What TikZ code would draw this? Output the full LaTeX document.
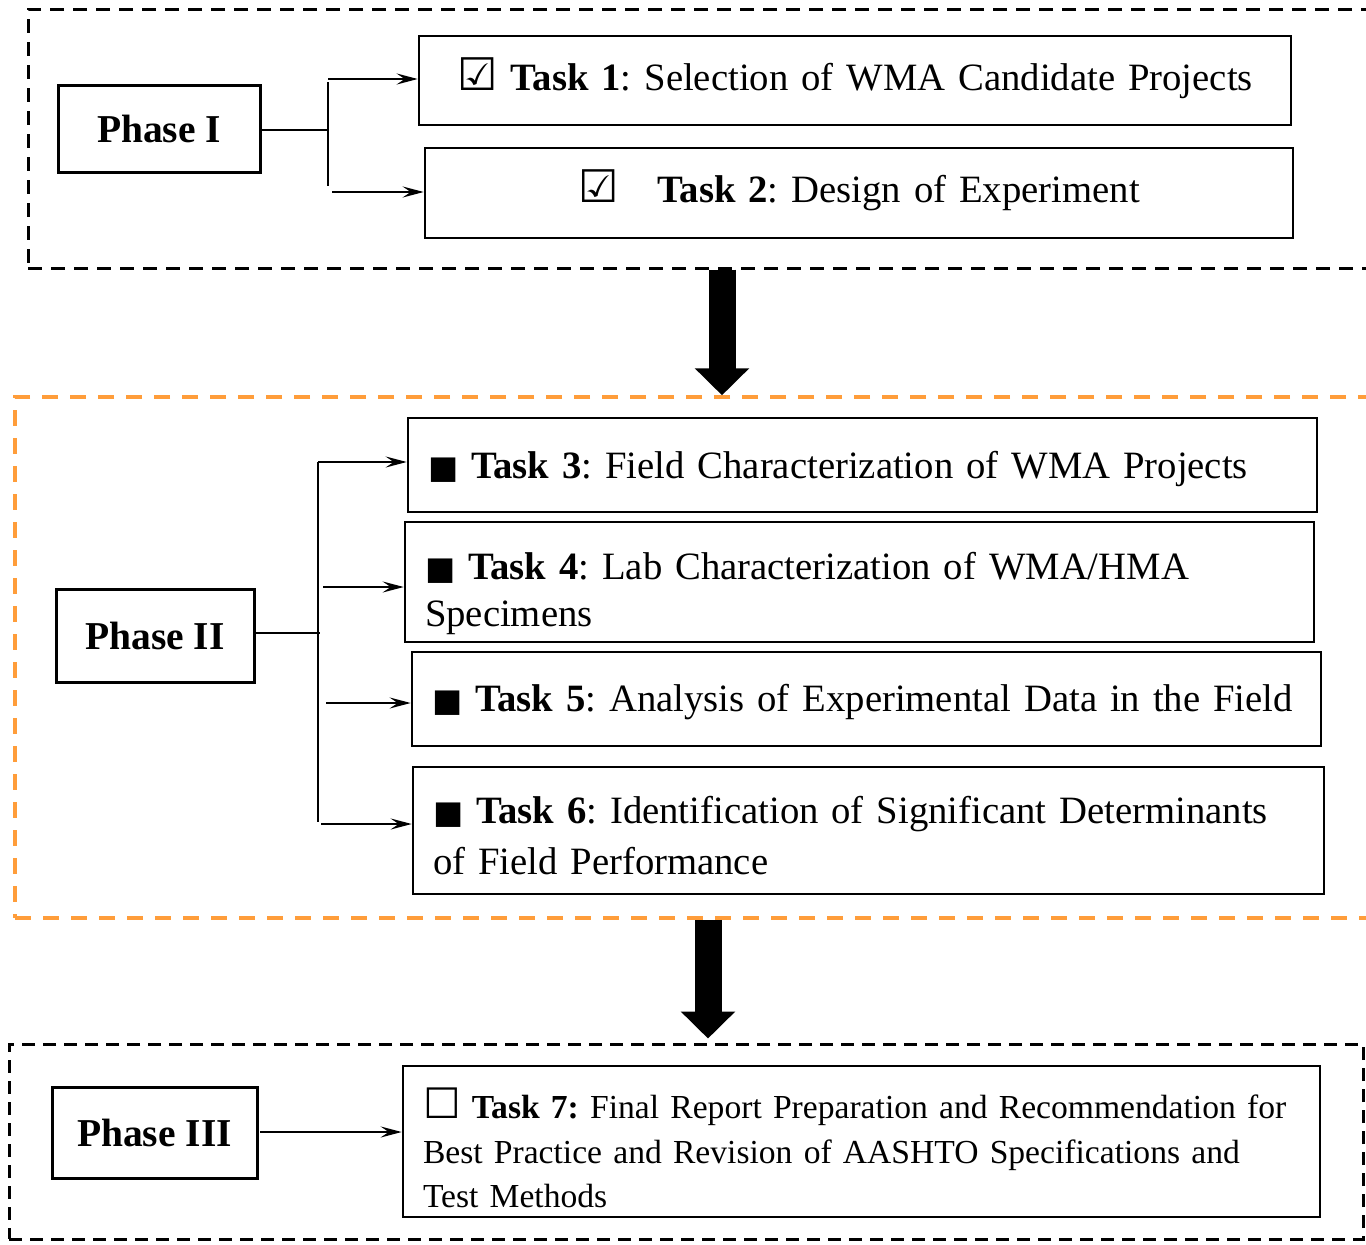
\documentclass[tikz,border=0pt]{standalone}
\usepackage{fontspec}
\setmainfont{Liberation Serif}
\newfontfamily\symfont{DejaVu Sans}
\usetikzlibrary{arrows.meta,calc}
\definecolor{phaseorange}{RGB}{255,157,58}
\newcommand{\chk}{\smash{\symfont\fontsize{45}{45}\selectfont ☑}}
\newcommand{\sqb}{\smash{\symfont\fontsize{32}{32}\selectfont ■}}
\newcommand{\emptybox}{\smash{\symfont\fontsize{42}{42}\selectfont ☐}}
\newcommand{\lift}[1]{\rule{0pt}{#1}}
\frenchspacing
\hbadness=10000 \hfuzz=200pt
\begin{document}
\begin{tikzpicture}[x=1pt,y=-1pt,
  phasebox/.style={draw,line width=3pt,font=\fontsize{39.5}{47}\selectfont\bfseries,inner sep=0pt},
  taskbox/.style={draw,line width=2.6pt,font=\fontsize{38.7}{47}\selectfont,inner xsep=20pt,inner ysep=0pt},
  grpblack/.style={draw,line width=3pt,dash pattern=on 14pt off 9pt},
  grporange/.style={draw=phaseorange,line width=3.5pt,dash pattern=on 16pt off 12pt},
  branch/.style={line width=2.4pt},
  thinarrow/.style={line width=2.4pt,-{Stealth[length=21pt,width=11pt,inset=8pt]}},
  bigarrow/.style={line width=27pt,-{Triangle[length=27pt,width=53pt]}}
]
\clip (0,0) rectangle (1366,1245);
\fill[white] (0,0) rectangle (1366,1245);

% group frames
\node[grpblack,minimum width=1372pt,minimum height=259pt,inner sep=0pt] (G1) at (714,138.5) {};
\node[grporange,minimum width=1385pt,minimum height=521pt,inner sep=0pt] (G2) at (707.5,657.5) {};
\node[grpblack,minimum width=1354pt,minimum height=195pt,inner sep=0pt,dash pattern=on 13pt off 8pt] (G3) at (686,1141.5) {};

% phases
\node[phasebox,minimum width=202pt,minimum height=87pt] (P1) at (159,128.5) {Phase I};
\node[phasebox,minimum width=198pt,minimum height=93pt] (P2) at (155,635.5) {Phase II};
\node[phasebox,minimum width=205pt,minimum height=91pt] (P3) at (154.5,1132.5) {Phase III};

% tasks
\node[taskbox,minimum width=872pt,minimum height=89pt,text width=832pt,align=center] (T1) at (855,80.5)
  {\mbox{\chk\ \textbf{Task 1}: Selection of WMA Candidate Projects}};
\node[taskbox,minimum width=868pt,minimum height=90pt,text width=828pt,align=center] (T2) at (859,193)
  {\mbox{\chk\hspace{26pt} \textbf{Task 2}: Design of Experiment}};
\node[taskbox,minimum width=909pt,minimum height=94pt,text width=869pt,align=left] (T3) at (862.5,465)
  {\mbox{\lift{36pt}\sqb\ \textbf{Task 3}: Field Characterization of WMA Projects}};
\node[taskbox,minimum width=909pt,minimum height=120pt,text width=869pt,align=left] (T4) at (859.5,582)
  {\mbox{\lift{50pt}\sqb\ \textbf{Task 4}: Lab Characterization of WMA/HMA}\\\mbox{Specimens}};
\node[taskbox,minimum width=909pt,minimum height=94pt,text width=869pt,align=left] (T5) at (866.5,699)
  {\mbox{\lift{34pt}\sqb\ \textbf{Task 5}: Analysis of Experimental Data in the Field}};
\node[taskbox,minimum width=911pt,minimum height=127pt,text width=871pt,align=left,font=\fontsize{38.7}{51}\selectfont] (T6) at (868.5,830.5)
  {\mbox{\lift{38pt}\sqb\ \textbf{Task 6}: Identification of Significant Determinants}\\\mbox{of Field Performance}};
\node[taskbox,minimum width=917pt,minimum height=151pt,text width=877pt,align=left,font=\fontsize{33.6}{44.5}\selectfont] (T7) at (861.5,1141.5)
  {\mbox{\lift{44pt}\emptybox\ \textbf{Task 7:} Final Report Preparation and Recommendation for}\\\mbox{Best Practice and Revision of AASHTO Specifications and}\\\mbox{Test Methods}};

% phase I branches
\coordinate (j1) at (328,130);
\coordinate (v1a) at (328,82);
\coordinate (v1b) at (328,186);
\coordinate (s1) at (328,79);
\coordinate (s2) at (332,192);
\draw[branch] (P1.east |- j1) -- (j1);
\draw[branch] (v1a) -- (v1b);
\draw[thinarrow] (s1) -- (s1 -| T1.west);
\draw[thinarrow] (s2) -- (s2 -| T2.west);

% phase II branches
\coordinate (j2) at (320,633);
\coordinate (v2a) at (318,462);
\coordinate (v2b) at (318,822);
\coordinate (s3) at (318,462);
\coordinate (s4) at (323,587);
\coordinate (s5) at (326,703);
\coordinate (s6) at (321,824);
\draw[branch] (P2.east |- j2) -- (j2);
\draw[branch] (v2a) -- (v2b);
\draw[thinarrow] (s3) -- (s3 -| T3.west);
\draw[thinarrow] (s4) -- (s4 -| T4.west);
\draw[thinarrow] (s5) -- (s5 -| T5.west);
\draw[thinarrow] (s6) -- (s6 -| T6.west);

% phase III
\coordinate (s7) at (260,1132);
\draw[thinarrow] (s7) -- (s7 -| T7.west);

% big arrows
\coordinate (ax1) at (722,0);
\coordinate (ax2) at (708,0);
\draw[bigarrow] (ax1 |- G1.south) -- (ax1 |- G2.north);
\draw[bigarrow] (ax2 |- G2.south) -- ($(ax2 |- G3.north)+(0,-4)$);
\end{tikzpicture}
\end{document}
